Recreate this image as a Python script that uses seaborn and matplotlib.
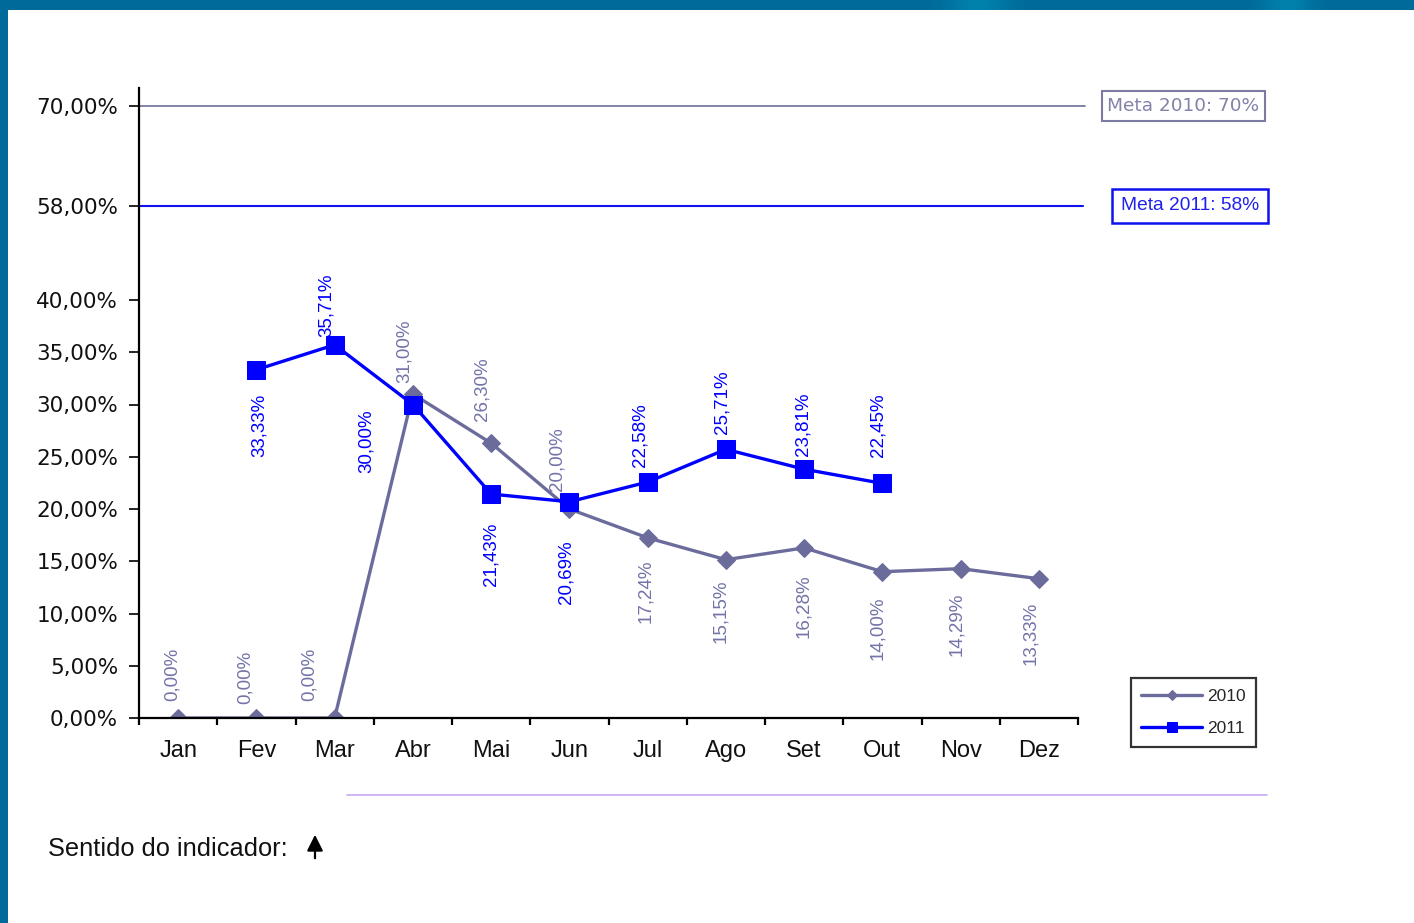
import numpy as np
import pandas as pd
import matplotlib
matplotlib.use("Agg")
import matplotlib.pyplot as plt
import seaborn as sns
from matplotlib.lines import Line2D
from matplotlib.patches import Rectangle
from matplotlib.transforms import blended_transform_factory

# ---- data ----
meses = ["Jan", "Fev", "Mar", "Abr", "Mai", "Jun", "Jul", "Ago", "Set", "Out", "Nov", "Dez"]
valores_2010 = [0.00, 0.00, 0.00, 31.00, 26.30, 20.00, 17.24, 15.15, 16.28, 14.00, 14.29, 13.33]
valores_2011 = [np.nan, 33.33, 35.71, 30.00, 21.43, 20.69, 22.58, 25.71, 23.81, 22.45, np.nan, np.nan]
meta_2010 = 70.0
meta_2011 = 58.0
y_ticks = [0, 5, 10, 15, 20, 25, 30, 35, 40, 58, 70]

# ---- label placement (offsets in pixels from each point) ----
off_2010 = [(-6, 44), (-11, 41), (-25, 44), (-9, 43), (-9, 54), (-12, 50),
            (-2, -53), (-5, -52), (-1, -58), (-5, -57), (-4, -56), (-8, -55)]
off_2011 = [None, (3, -56), (-8, 40), (-47, -37), (0, -60), (-3, -70),
            (-8, 47), (-4, 47), (-1, 45), (-4, 58), None, None]

COR_2010 = "#6b6b9c"
COR_2010_TXT = "#7373a8"
COR_2011 = "#0000ff"

sns.set_style("white")
plt.rcParams["font.family"] = ["Liberation Sans", "DejaVu Sans"]

W, H = 1414, 923
fig = plt.figure(figsize=(W / 100, H / 100), dpi=100)
fig.patch.set_facecolor("white")

ax = fig.add_axes([139 / W, (H - 718) / H, 939 / W, 630 / H])

df = pd.DataFrame({
    "pos": list(range(len(meses))) * 2,
    "valor": valores_2010 + valores_2011,
    "serie": ["2010"] * len(meses) + ["2011"] * len(meses),
})

d10 = df[df.serie == "2010"]
d11 = df[df.serie == "2011"].dropna()

sns.lineplot(data=d10, x="pos", y="valor", color=COR_2010, marker="D",
             markersize=9, markeredgecolor=COR_2010, linewidth=2.4,
             label="2010", ax=ax)
sns.lineplot(data=d11, x="pos", y="valor", color=COR_2011, marker="s",
             markersize=12.5, markeredgecolor=COR_2011, linewidth=2.4,
             label="2011", ax=ax)

# piecewise scale: 0-40 stretched, 40-70 compressed
kv = [0, 40, 58, 70, 80]
kp = [0, 418, 512, 612, 702]
ax.set_yscale("function", functions=(lambda v: np.interp(v, kv, kp),
                                     lambda p: np.interp(p, kp, kv)))
ax.set_ylim(0, 72)
ax.set_xlim(-0.5, len(meses) - 0.5)

# targets
ax.axhline(meta_2010, xmax=1.0075, color="#7a7aa2", lw=1.3, clip_on=False, zorder=1)
ax.axhline(meta_2011, xmax=1.0055, color="#1010ee", lw=1.5, clip_on=False, zorder=1)
tr = blended_transform_factory(ax.transAxes, ax.transData)
ax.text(1.1124, meta_2010, f"Meta 2010: {meta_2010:.0f}%", transform=tr,
        ha="center", va="center", fontsize=13.3, family="DejaVu Sans",
        color="#8282aa",
        bbox=dict(boxstyle="square,pad=0.3", fc="white", ec="#7a7aa2", lw=1.5))
ax.text(1.1193, meta_2011, f"Meta 2011: {meta_2011:.0f}%", transform=tr,
        ha="center", va="center", fontsize=13.8, color="#2020ee",
        bbox=dict(boxstyle="square,pad=0.45", fc="white", ec="#1010ee", lw=1.8))


def fmt(v):
    return f"{v:.2f}".replace(".", ",") + "%"


for i, (v, o) in enumerate(zip(valores_2010, off_2010)):
    ax.annotate(fmt(v), xy=(i, v), xytext=o, textcoords="offset pixels",
                rotation=90, ha="center", va="center", fontsize=13.5,
                color=COR_2010_TXT)
for i, (v, o) in enumerate(zip(valores_2011, off_2011)):
    if o is None or np.isnan(v):
        continue
    ax.annotate(fmt(v), xy=(i, v), xytext=o, textcoords="offset pixels",
                rotation=90, ha="center", va="center", fontsize=13.5,
                color=COR_2011)

# axes styling
ax.set_xlabel("")
ax.set_ylabel("")
for s in ["top", "right"]:
    ax.spines[s].set_visible(False)
for s in ["left", "bottom"]:
    ax.spines[s].set_color("black")
    ax.spines[s].set_linewidth(1.6)

ax.set_yticks(y_ticks)
ax.set_yticklabels([fmt(t) for t in y_ticks], family="DejaVu Sans", fontsize=15.5)
ax.tick_params(axis="y", which="major", direction="out", length=7, width=1.2,
               color="black", pad=8, left=True, labelcolor="#111111")

ax.set_xticks(np.arange(-0.5, len(meses), 1.0))
ax.set_xticklabels([])
ax.set_xticks(np.arange(len(meses)), minor=True)
ax.set_xticklabels(meses, minor=True, fontsize=17)
ax.tick_params(axis="x", which="major", direction="out", length=5, width=1.6,
               color="black", bottom=True)
ax.tick_params(axis="x", which="minor", length=0, pad=16, labelcolor="#111111")
ax.grid(False)

# legend
ax.get_legend().remove()
h, l = ax.get_legend_handles_labels()
leg = fig.legend(h, l, loc="center", bbox_to_anchor=(1193.5 / W, 1 - 712.5 / H),
                 frameon=True, fancybox=False, edgecolor="black", fontsize=12.5,
                 handlelength=3.5, handletextpad=0.3, markerscale=0.6,
                 labelspacing=1.0, borderpad=0.6)
leg.get_frame().set_linewidth(1.6)

# separator and footer
fig.add_artist(Line2D([347 / W, 1267 / W], [1 - 795 / H] * 2, color="#c6aaf2", lw=1.2))
fig.text(48 / W, 1 - 849 / H, "Sentido do indicador:", fontsize=18.3,
         va="center", ha="left", color="#111111")
ax.annotate("", xy=(315, H - 832), xycoords="figure pixels",
            xytext=(315, H - 861), textcoords="figure pixels",
            arrowprops=dict(arrowstyle="-|>", color="black", lw=1.6,
                            mutation_scale=24), annotation_clip=False)

# frame: top band with soft highlights and left band
band = fig.add_axes([0, 1 - 10 / H, 1, 10 / H])
xs = np.arange(W)
base = np.array([0, 106, 154]) / 255
light = np.array([0, 130, 172]) / 255
k = np.exp(-((xs - 978) / 30.0) ** 2) + np.exp(-((xs - 1287) / 24.0) ** 2)
k = np.clip(k, 0, 1)[:, None]
grad = base * (1 - k) + light * k
band.imshow(grad[None, :, :], aspect="auto", extent=(0, W, 0, 1))
band.set_axis_off()
fig.add_artist(Rectangle((0, 0), 8 / W, 1, transform=fig.transFigure,
                         color="#006a9a", lw=0))

fig.savefig("out.png", dpi=100)
